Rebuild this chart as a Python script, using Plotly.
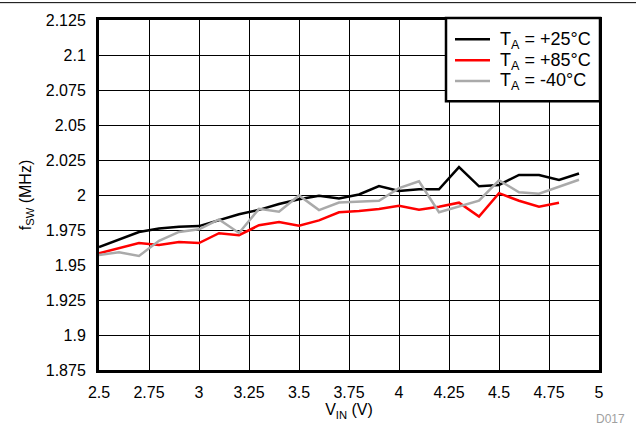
import plotly.graph_objects as go

vin = [2.5, 2.6, 2.7, 2.8, 2.9, 3.0, 3.1, 3.2, 3.3, 3.4, 3.5, 3.6, 3.7,
       3.8, 3.9, 4.0, 4.1, 4.2, 4.3, 4.4, 4.5, 4.6, 4.7, 4.8, 4.9]

f_25 = [1.9628, 1.9683, 1.9736, 1.9760, 1.9774, 1.9778, 1.9823, 1.9863, 1.9894,
        1.9936, 1.9969, 1.9995, 1.9975, 2.0004, 2.0064, 2.0029, 2.0041, 2.0041,
        2.0199, 2.0062, 2.0072, 2.0143, 2.0143, 2.0107, 2.0154]

f_85 = [1.9584, 1.9619, 1.9657, 1.9643, 1.9664, 1.9657, 1.9727, 1.9713, 1.9784,
        1.9807, 1.9781, 1.9819, 1.9877, 1.9886, 1.9900, 1.9923, 1.9895, 1.9916,
        1.9945, 1.9846, 2.0013, 1.9959, 1.9916, 1.9945]

f_m40 = [1.9572, 1.9591, 1.9565, 1.9673, 1.9736, 1.9755, 1.9826, 1.9729, 1.9901,
         1.9880, 1.9997, 1.9892, 1.9946, 1.9954, 1.9959, 2.0049, 2.0098, 1.9877,
         1.9916, 1.9959, 2.0105, 2.0020, 2.0009, 2.0060, 2.0109]

x_ticks = [2.5, 2.75, 3, 3.25, 3.5, 3.75, 4, 4.25, 4.5, 4.75, 5]
x_tick_labels = ["2.5", "2.75", "3", "3.25", "3.5", "3.75", "4", "4.25", "4.5", "4.75", "5"]
y_ticks = [1.875, 1.9, 1.925, 1.95, 1.975, 2.0, 2.025, 2.05, 2.075, 2.1, 2.125]
y_tick_labels = ["1.875", "1.9", "1.925", "1.95", "1.975", "2", "2.025", "2.05", "2.075", "2.1", "2.125"]

names = ["T<sub>A</sub> = +25°C", "T<sub>A</sub> = +85°C", "T<sub>A</sub> = -40°C"]
colors = ["#000000", "#ff0000", "#aaaaaa"]

FONT = "Liberation Sans, Arial, sans-serif"

W, H = 636, 428
ml, mr, mt, mb = 99, 37, 18, 57
pw, ph = W - ml - mr, H - mt - mb


def px(x):
    return (x - ml) / pw


def py(y):
    return (mt + ph - y) / ph


fig = go.Figure()
for ys, name, col in zip([f_25, f_85, f_m40], names, colors):
    fig.add_trace(go.Scatter(x=vin[:len(ys)], y=ys, mode="lines", name=name,
                             line=dict(color=col, width=2.5), showlegend=False))

# legend drawn as box + sample lines + text (paper coordinates)
shapes = [
    dict(type="line", xref="paper", yref="paper", x0=px(0), x1=px(W),
         y0=py(0.5), y1=py(0.5), line=dict(color="black", width=1)),
    dict(type="rect", xref="paper", yref="paper", x0=px(446), x1=px(600),
         y0=py(100), y1=py(16), fillcolor="white",
         line=dict(color="black", width=2.5), layer="above"),
]
annotations = []
legend_y = [37.5, 58.5, 79.5]
for name, col, ly in zip(names, colors, legend_y):
    shapes.append(dict(type="line", xref="paper", yref="paper", x0=px(455), x1=px(490),
                       y0=py(ly), y1=py(ly), line=dict(color=col, width=2.5), layer="above"))
    annotations.append(dict(text=name, xref="paper", yref="paper", x=px(498), y=py(ly + 1),
                            xanchor="left", yanchor="middle", showarrow=False,
                            font=dict(size=18, family=FONT, color="black")))

annotations.append(dict(text="D017", xref="paper", yref="paper",
                        x=px(627), y=py(420), xanchor="right", yanchor="middle",
                        showarrow=False, font=dict(size=12, color="#a0a0a0", family=FONT)))

fig.update_layout(
    width=W, height=H,
    margin=dict(l=ml, r=mr, t=mt, b=mb, pad=0),
    paper_bgcolor="white", plot_bgcolor="white",
    font=dict(family=FONT, size=16, color="#000000"),
    showlegend=False,
    xaxis=dict(range=[2.5, 5], tickvals=x_ticks, ticktext=x_tick_labels,
               showgrid=True, gridcolor="#000000", gridwidth=1,
               showline=True, linecolor="black", linewidth=3, mirror=True,
               ticks="", zeroline=False, ticklabelstandoff=6,
               title=dict(text="V<sub>IN</sub> (V)", font=dict(size=16), standoff=4),
               tickfont=dict(size=16)),
    yaxis=dict(range=[1.875, 2.125], tickvals=y_ticks, ticktext=y_tick_labels,
               showgrid=True, gridcolor="#000000", gridwidth=1,
               showline=True, linecolor="black", linewidth=3, mirror=True,
               ticks="", zeroline=False, ticklabelstandoff=7,
               title=dict(text="f<sub>SW</sub> (MHz)", font=dict(size=16), standoff=11),
               tickfont=dict(size=16)),
    shapes=shapes,
    annotations=annotations,
)

fig.write_html("out.html", config={"displayModeBar": False},
               post_script="document.body.style.margin='0';")
